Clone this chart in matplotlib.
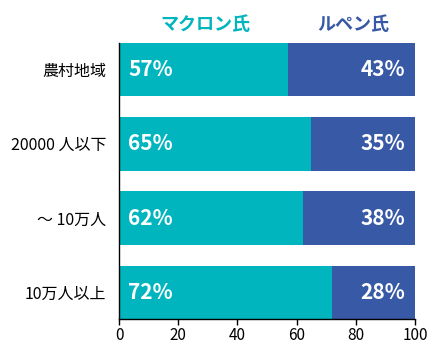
import matplotlib
matplotlib.use("Agg")
import matplotlib.pyplot as plt

plt.rcParams['font.family'] = ['Noto Sans CJK JP', 'DejaVu Sans']

# ── données ──────────────────────────────
categories = ["農村地域", "20000 人以下", "～ 10万人", "10万人以上"]
macron = [57, 65, 62, 72]
lepen = [43, 35, 38, 28]
series_names = ["マクロン氏", "ルペン氏"]
xticks = [0, 20, 40, 60, 80, 100]

teal = "#00B5BE"
blue = "#3859A5"

fig = plt.figure(figsize=(4.4, 3.59), dpi=100)
ax = fig.add_axes([0.2705, 0.1114, 0.6727, 0.7688])

pos = range(len(categories))
ax.barh(pos, macron, height=0.72, color=teal)
ax.barh(pos, lepen, left=macron, height=0.72, color=blue)

for i, (m, l) in enumerate(zip(macron, lepen)):
    ax.text(3.2, i, f"{m}%", color="white", fontsize=15, fontweight="bold",
            ha="left", va="center")
    ax.text(m + l - 3.2, i, f"{l}%", color="white", fontsize=15, fontweight="bold",
            ha="right", va="center")

ax.set_xlim(0, 100)
ax.set_ylim(len(categories) - 1 + 0.36, -0.36)
ax.set_yticks(list(pos))
ax.set_yticklabels(categories, fontsize=11.5)
ax.set_xticks(xticks)
ax.tick_params(axis="y", length=0, pad=9)
ax.tick_params(axis="x", length=4, width=1, labelsize=11, pad=2)
for s in ["top", "right"]:
    ax.spines[s].set_visible(False)
ax.spines["left"].set_linewidth(1)
ax.spines["bottom"].set_linewidth(1)

fig.text(205 / 440, 1 - 25 / 359, series_names[0], color=teal, fontsize=13,
         fontweight="bold", ha="center", va="center")
fig.text(353 / 440, 1 - 25 / 359, series_names[1], color=blue, fontsize=13,
         fontweight="bold", ha="center", va="center")

fig.savefig("out.png", dpi=100)
